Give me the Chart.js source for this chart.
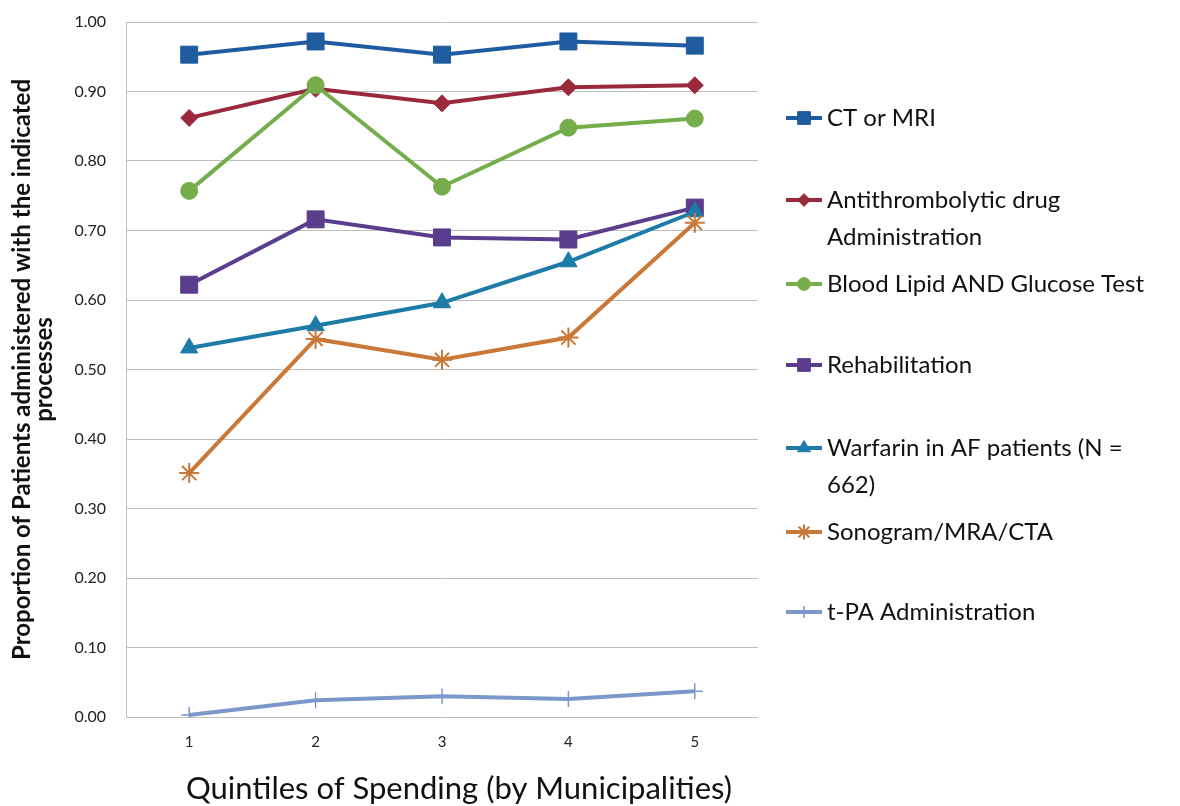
<!DOCTYPE html>
<html>
<head>
<meta charset="utf-8">
<script src="https://cdn.jsdelivr.net/npm/chart.js@4.4.1/dist/chart.umd.min.js"></script>
<style>
  html, body { margin: 0; padding: 0; background: #fff; }
  #wrap { width: 1180px; height: 806px; position: relative; }
</style>
</head>
<body>
<div id="wrap"><canvas id="chart"></canvas></div>
<script>
// Quintiles of spending
const quintiles = ['1', '2', '3', '4', '5'];

// Proportions
const ctOrMri = [0.953, 0.972, 0.953, 0.972, 0.966];
const antithrombolytic = [0.862, 0.904, 0.883, 0.906, 0.909];
const bloodLipid = [0.757, 0.909, 0.763, 0.848, 0.861];
const rehabilitation = [0.622, 0.716, 0.690, 0.687, 0.733];
const warfarin = [0.531, 0.563, 0.596, 0.655, 0.727];
const sonogram = [0.351, 0.544, 0.514, 0.546, 0.711];
const tpa = [0.003, 0.024, 0.030, 0.026, 0.037];

const seriesNames = ['CT or MRI', 'Antithrombolytic drug Administration', 'Blood Lipid AND Glucose Test',
  'Rehabilitation', 'Warfarin in AF patients (N = 662)', 'Sonogram/MRA/CTA', 't-PA Administration'];

const xTitle = 'Quintiles of Spending (by Municipalities)';

const FONT = 'Lato, "Open Sans", sans-serif';

// style per series: colour, marker, marker radius, marker border width
const styles = [
  { color: '#1F5C9F', point: 'rect', r: 12, bw: 1 },
  { color: '#9A2A3B', point: 'rectRot', r: 8.5, bw: 1 },
  { color: '#76AD4B', point: 'circle', r: 8.5, bw: 1 },
  { color: '#5A3D8C', point: 'rect', r: 12, bw: 1 },
  { color: '#1C7BA7', point: 'triangle', r: 10, bw: 1 },
  { color: '#C97838', point: 'star', r: 10, bw: 2 },
  { color: '#7C97C9', point: 'cross', r: 8, bw: 1.5 }
];

const allValues = [ctOrMri, antithrombolytic, bloodLipid, rehabilitation, warfarin, sonogram, tpa];

const datasets = allValues.map((vals, i) => ({
  label: seriesNames[i],
  data: vals,
  borderColor: styles[i].color,
  backgroundColor: styles[i].color,
  borderWidth: 4,
  pointStyle: styles[i].point,
  pointRadius: styles[i].r,
  pointBorderWidth: styles[i].bw,
  pointBorderColor: styles[i].color,
  pointBackgroundColor: styles[i].color,
  tension: 0,
  order: 10 - i
}));

// first-line centre of each legend entry
const legendRowY = [118, 200, 284, 365, 448, 532, 612];

const sideLegend = {
  id: 'sideLegend',
  afterDraw(chart) {
    const ctx = chart.ctx;
    ctx.save();
    ctx.font = '24px ' + FONT;
    ctx.textBaseline = 'middle';
    ctx.textAlign = 'left';
    const x0 = 786, x1 = 822, tx = 827, maxW = 345;
    seriesNames.forEach((name, i) => {
      const y = legendRowY[i];
      const st = styles[i];
      ctx.strokeStyle = st.color;
      ctx.lineWidth = 4;
      ctx.beginPath();
      ctx.moveTo(x0, y);
      ctx.lineTo(x1, y);
      ctx.stroke();
      ctx.fillStyle = st.color;
      ctx.lineWidth = st.bw;
      Chart.helpers.drawPoint(ctx, { pointStyle: st.point, radius: st.r * 0.75, borderWidth: st.bw, rotation: 0 }, (x0 + x1) / 2, y);
      // wrap words
      const words = name.split(' ');
      let line = '', ly = y;
      ctx.fillStyle = '#111';
      words.forEach(w => {
        const test = line ? line + ' ' + w : w;
        if (ctx.measureText(test).width > maxW && line) {
          ctx.fillText(line, tx, ly);
          line = w;
          ly += 37;
        } else {
          line = test;
        }
      });
      ctx.fillText(line, tx, ly);
    });

    // x axis title, sitting a little right of the plot centre as in the original
    ctx.font = '31px ' + FONT;
    ctx.textAlign = 'center';
    ctx.fillStyle = '#111';
    ctx.fillText(xTitle, chart.chartArea.left + chart.chartArea.width / 2 + 17, 789);
    ctx.restore();
  }
};

new Chart(document.getElementById('chart'), {
  type: 'line',
  data: { labels: quintiles, datasets: datasets },
  options: {
    responsive: true,
    maintainAspectRatio: false,
    animation: false,
    layout: { padding: { left: 0, right: 422, top: 22, bottom: 0 } },
    plugins: { legend: { display: false }, tooltip: { enabled: false } },
    scales: {
      x: {
        offset: true,
        grid: { display: false, drawTicks: false },
        border: { display: false },
        ticks: { color: '#222', font: { family: FONT, size: 15 }, padding: 16 },
        afterFit(scale) { scale.height = 89; scale.paddingLeft = 0; scale.paddingRight = 0; }
      },
      y: {
        min: 0,
        max: 1,
        ticks: {
          stepSize: 0.1,
          color: '#222',
          font: { family: FONT, size: 16 },
          padding: 20,
          callback: v => v.toFixed(2)
        },
        grid: { color: '#BDBDBD', lineWidth: 1, drawTicks: false },
        border: { display: true, color: '#BDBDBD', width: 1 },
        title: {
          display: true,
          text: ['Proportion of Patients administered with the indicated', 'processes'],
          color: '#111',
          font: { family: FONT, size: 24, weight: 'bold', lineHeight: 0.95 },
          padding: { top: 10.5, bottom: 0 }
        },
        afterFit(scale) { scale.width = 126; scale.paddingTop = 0; scale.paddingBottom = 0; }
      }
    }
  },
  plugins: [sideLegend]
});
</script>
</body>
</html>
